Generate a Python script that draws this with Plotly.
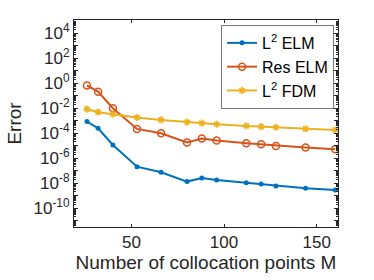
import plotly.graph_objects as go

M = [26, 32, 40, 53, 66, 80, 88, 96, 112, 120, 128, 144, 160]
l2_elm = [8.5e-4, 2.5e-4, 1.15e-5, 2.1e-7, 7.6e-8, 1.35e-8, 2.6e-8, 1.8e-8, 1.1e-8, 8.7e-9, 6.0e-9, 4.0e-9, 2.9e-9]
res_elm = [0.65, 0.21, 1.0e-2, 2.2e-4, 1.0e-4, 1.8e-5, 3.7e-5, 2.6e-5, 1.6e-5, 1.3e-5, 9.5e-6, 7.1e-6, 5.2e-6]
l2_fdm = [8.3e-3, 4.8e-3, 3.3e-3, 1.8e-3, 1.15e-3, 7.6e-4, 6.3e-4, 5.2e-4, 3.8e-4, 3.4e-4, 3.0e-4, 2.2e-4, 1.8e-4]

names = ["L<sup>2</sup> ELM", "Res ELM", "L<sup>2</sup> FDM"]
colors = ["#0072BD", "#D95319", "#EDB120"]
symbols = ["circle", "circle-open", "asterisk-open"]
sizes = [5, 7, 6]
mlw = [0, 1.5, 1.5]

x_ticks = [50, 100, 150]
y_exps = list(range(-11, 6))
y_tickvals = [10.0 ** k for k in y_exps]
y_ticktext = [f"10<sup>{k}</sup>" if k % 2 == 0 and -10 <= k <= 4 else "" for k in y_exps]

fig = go.Figure()
for name, ys, c, s, sz, lw in zip(names, [l2_elm, res_elm, l2_fdm], colors, symbols, sizes, mlw):
    fig.add_trace(go.Scatter(
        x=M, y=ys, name=name, mode="lines+markers",
        line=dict(color=c, width=2),
        marker=dict(symbol=s, size=sz, color=c, line=dict(color=c, width=lw)),
    ))

font_family = "Liberation Sans, Arial, sans-serif"
axis_color = "#262626"

fig.update_layout(
    width=374, height=280,
    margin=dict(l=74, r=36, t=20, b=53, autoexpand=False),
    paper_bgcolor="white", plot_bgcolor="white",
    font=dict(family=font_family, color=axis_color, size=16),
    showlegend=True,
    legend=dict(
        x=0.985, y=0.976, xanchor="right", yanchor="top",
        bgcolor="white", bordercolor="#7a7a7a", borderwidth=1,
        font=dict(size=16, color="#000000"),
        tracegroupgap=0, itemwidth=30,
    ),
    xaxis=dict(
        range=[19, 161.5], tickvals=x_ticks, automargin=False,
        ticks="inside", ticklen=3, tickcolor=axis_color,
        showline=True, linecolor=axis_color, linewidth=1, mirror="ticks",
        showgrid=False, zeroline=False,
        tickfont=dict(size=17),
        title=dict(text="Number of collocation points M", font=dict(size=19), standoff=4),
    ),
    yaxis=dict(
        type="log", range=[-11.5, 5.05], automargin=False,
        tickvals=y_tickvals, ticktext=y_ticktext,
        ticks="inside", ticklen=4, tickcolor=axis_color,
        showline=True, linecolor=axis_color, linewidth=1, mirror="ticks",
        showgrid=False, zeroline=False,
        minor=dict(ticks="inside", ticklen=2, tickcolor=axis_color, dtick="D1", showgrid=False),
        tickfont=dict(size=17),
        title=dict(text="Error", font=dict(size=19), standoff=6),
    ),
)

fig.write_html("out.html", config={"displayModeBar": False},
               post_script="document.body.style.margin='0px';")
